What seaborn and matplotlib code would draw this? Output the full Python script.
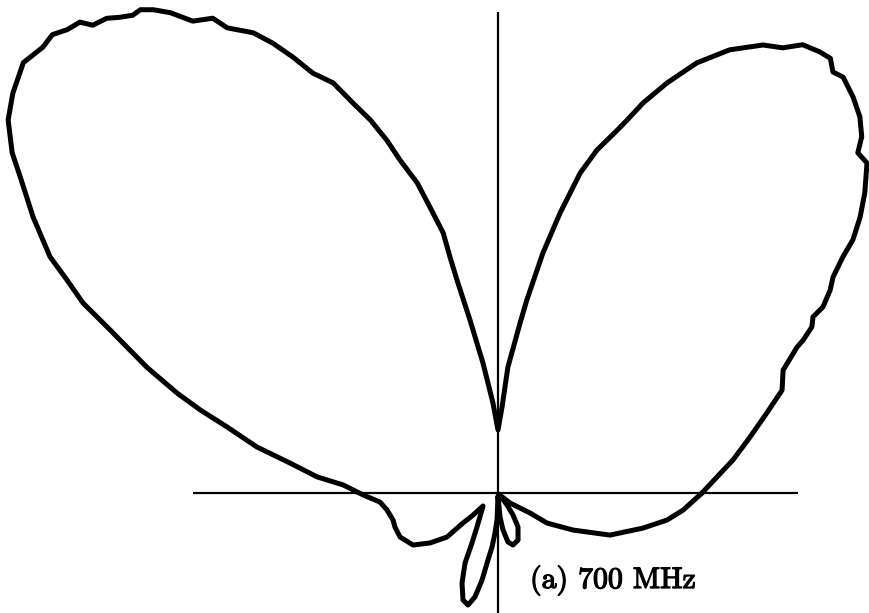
import numpy as np
import pandas as pd
import matplotlib
matplotlib.use("Agg")
import matplotlib.pyplot as plt
import matplotlib.patheffects as pe
import seaborn as sns

# Measured radiation pattern at 700 MHz: azimuth angle (degrees, counter-clockwise
# from the positive x axis) and relative field level (linear, arbitrary units).
angle_deg = [0, 4.2, 8.0, 12.5, 16.6, 19.9, 23.3, 26.0, 26.6, 27.9,
             29.2, 29.8, 31.4, 32.8, 34.4, 35.5, 37.3, 39.3, 41.8, 43.4,
             44.4, 46.1, 48.1, 50.3, 51.5, 52.6, 53.9, 55.8, 57.4, 59.4,
             62.4, 65.2, 67.6, 69.6, 70.9, 71.8, 73.9, 75.6, 77.5, 79.4,
             81.5, 82.6, 85.5, 87.3, 90.0, 93.2, 96.6, 99.2, 100.9, 101.5,
             101.9, 103.4, 104.6, 106.4, 107.5, 108.9, 110.4, 111.9, 113.8, 115.2,
             116.6, 118.0, 120.2, 121.0, 122.9, 124.3, 125.5, 126.5, 127.4, 128.5,
             129.5, 130.9, 131.6, 132.9, 134.2, 135.6, 137.8, 140.5, 142.7, 145.0,
             146.5, 149.3, 152.2, 153.7, 155.4, 157.2, 160.3, 162.7, 164.4, 166.3,
             169.2, 171.8, 174.9, 177.0, 180.8, 184.4, 188.7, 194.4, 198.3, 204.2,
             211.5, 216.3, 220.8, 220.6, 221.5, 220.9, 238.3, 242.5, 244.8, 248.2,
             251.9, 255.0, 257.5, 259.6, 261.5, 263.7, 265.7, 267.9, 270.0, 274.8,
             277.7, 281.5, 286.1, 293.1, 300.5, 304.3, 306.9, 312.0, 320.2, 328.0,
             328.5, 333.7, 339.4, 346.4, 350.9, 354.7, 360.0]

level = [204, 219.6, 237.3, 258.1, 280.6, 302.1, 310.4, 332.7, 341.2, 355.2,
         360.8, 374.5, 389.1, 398.6, 418.0, 435.9, 455.2, 474.0, 495.0, 495.2,
         509.1, 521.9, 531.8, 540.4, 538.0, 547.2, 546.0, 542.0, 528.4, 520.5,
         500.1, 473.8, 443.5, 416.1, 394.7, 382.0, 357.0, 330.3, 286.8, 244.2,
         195.2, 171.4, 126.4, 86.1, 63, 90.1, 130.9, 175.3, 216.9, 240.8,
         265.8, 294.0, 320.4, 347.1, 370.0, 394.4, 416.1, 442.0, 458.9, 481.8,
         503.1, 521.2, 538.2, 553.9, 562.0, 581.4, 593.6, 601.2, 601.4, 607.8,
         615.2, 618.9, 629.7, 632.6, 639.3, 637.1, 640.7, 628.7, 615.8, 593.1,
         573.0, 540.7, 506.4, 480.8, 456.4, 420.8, 372.9, 336.2, 309.3, 278.9,
         245.4, 210.2, 181.7, 155.2, 135.0, 118.3, 112.3, 108.4, 108.5, 107.4,
         99.6, 84.4, 67.4, 46.1, 34.7, 19.8, 40.0, 56.4, 77.4, 96.9,
         112.6, 116.0, 106.5, 88.5, 67.7, 54.3, 40.1, 27.0, 3, 24.1,
         37.3, 50.0, 54.1, 51.1, 39.4, 26.6, 15, 3, 15.6, 37.7,
         57.5, 83.6, 119.6, 149.2, 171.1, 185.8, 204]

caption = "(a) 700 MHz"

# Polar pattern -> cartesian trace
theta = np.deg2rad(np.asarray(angle_deg, dtype=float))
r = np.asarray(level, dtype=float)
pattern = pd.DataFrame({"x": r * np.cos(theta), "y": r * np.sin(theta)})

sns.set_theme(style="white")

fig = plt.figure(figsize=(8.69, 6.13), dpi=100)
ax = fig.add_axes([0, 0, 1, 1])
ax.set_xlim(-498, 371)
ax.set_ylim(-120, 493)
ax.set_aspect("equal")
ax.axis("off")

# Reference axes through the pattern origin
ax.hlines(0, -305, 300, color="black", linewidth=1.6, zorder=1)
ax.vlines(0, -125, 481, color="black", linewidth=1.6, zorder=1)

sns.lineplot(data=pattern, x="x", y="y", sort=False, estimator=None,
             color="black", linewidth=3.6, ax=ax, zorder=2,
             solid_joinstyle="round", solid_capstyle="round")

ax.text(32, -95, caption, fontsize=21.5, family="cmr10", color="black",
        ha="left", va="baseline",
        path_effects=[pe.withStroke(linewidth=0.9, foreground="black")])

fig.savefig("out.png", dpi=100, facecolor="white")
